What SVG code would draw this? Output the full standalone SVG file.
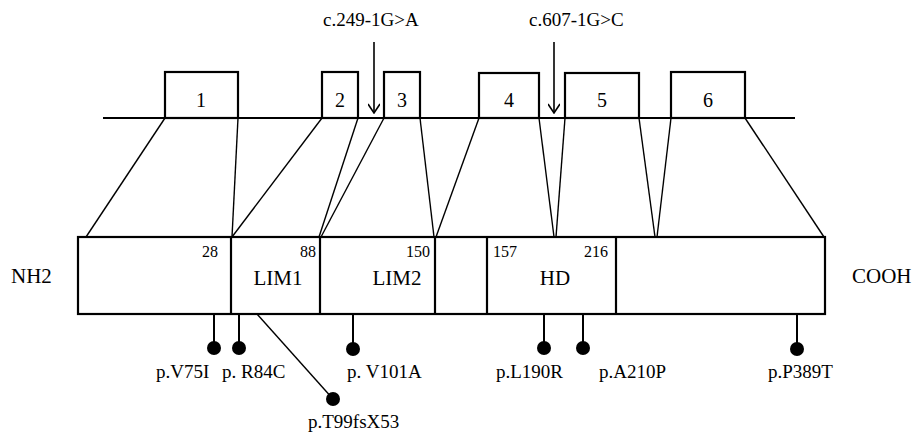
<svg xmlns="http://www.w3.org/2000/svg" width="914" height="435" viewBox="0 0 914 435">
<style>
text{font-family:"Liberation Serif","Times New Roman",serif;fill:#000}
.ex{fill:#fff;stroke:#000;stroke-width:2.2}
.dom{fill:#fff;stroke:#000;stroke-width:2.2}
.gl{stroke:#000;stroke-width:2.2;fill:none}
.cn{stroke:#000;stroke-width:1.4;fill:none}
.st{stroke:#000;stroke-width:2;fill:none}
.ar{stroke:#000;stroke-width:1.6;fill:none}
.en{font-size:20px;text-anchor:middle}
.big{font-size:21px}
.num{font-size:16px}
.mut{font-size:19px}
</style>
<defs>
<marker id="ah" viewBox="0 0 14 12" refX="13" refY="6" markerWidth="14" markerHeight="12" markerUnits="userSpaceOnUse" orient="auto">
<path d="M4,0 L13,6 L4,12" fill="none" stroke="#000" stroke-width="1.6"/>
</marker>
</defs>
<line id="gene-line" class="gl" x1="103" y1="118" x2="795" y2="118"/>
<g id="exon1"><rect class="ex" x="165" y="72" width="73" height="46"/><text class="en" x="201" y="107">1</text></g>
<g id="exon2"><rect class="ex" x="322" y="72" width="36" height="46"/><text class="en" x="340" y="107">2</text></g>
<g id="exon3"><rect class="ex" x="384" y="72" width="36" height="46"/><text class="en" x="402" y="107">3</text></g>
<g id="exon4"><rect class="ex" x="479" y="73" width="60" height="45"/><text class="en" x="509" y="107">4</text></g>
<g id="exon5"><rect class="ex" x="565" y="73" width="74" height="45"/><text class="en" x="602" y="107">5</text></g>
<g id="exon6"><rect class="ex" x="671" y="72" width="74" height="46"/><text class="en" x="708" y="107">6</text></g>
<g id="splice1"><text class="mut" x="323" y="26">c.249-1G&gt;A</text><line class="ar" x1="374" y1="42" x2="374" y2="113" marker-end="url(#ah)"/></g>
<g id="splice2"><text class="mut" x="529" y="26">c.607-1G&gt;C</text><line class="ar" x1="554" y1="42" x2="554" y2="113" marker-end="url(#ah)"/></g>
<g id="protein">
<rect class="dom" x="78" y="237" width="747" height="77"/>
<line class="dom" x1="231" y1="237" x2="231" y2="314"/>
<line class="dom" x1="320" y1="237" x2="320" y2="314"/>
<line class="dom" x1="435" y1="237" x2="435" y2="314"/>
<line class="dom" x1="487" y1="237" x2="487" y2="314"/>
<line class="dom" x1="616" y1="237" x2="616" y2="314"/>
<text class="num" x="218" y="257" text-anchor="end">28</text>
<text class="num" x="316" y="257" text-anchor="end">88</text>
<text class="num" x="430" y="257" text-anchor="end">150</text>
<text class="num" x="493" y="257">157</text>
<text class="num" x="608" y="257" text-anchor="end">216</text>
<text class="big" x="278" y="285" text-anchor="middle">LIM1</text>
<text class="big" x="397" y="285" text-anchor="middle">LIM2</text>
<text class="big" x="555" y="285" text-anchor="middle">HD</text>
</g>
<text id="nh2" class="big" x="11" y="283">NH2</text>
<text id="cooh" class="big" x="852" y="283">COOH</text>
<g id="connectors">
<line class="cn" x1="165" y1="118" x2="86" y2="237"/>
<line class="cn" x1="238" y1="118" x2="232" y2="237"/>
<line class="cn" x1="322" y1="118" x2="232" y2="237"/>
<line class="cn" x1="358" y1="118" x2="319" y2="237"/>
<line class="cn" x1="384" y1="118" x2="321" y2="237"/>
<line class="cn" x1="420" y1="118" x2="434" y2="237"/>
<line class="cn" x1="479" y1="118" x2="436" y2="237"/>
<line class="cn" x1="539" y1="118" x2="554" y2="237"/>
<line class="cn" x1="565" y1="118" x2="556" y2="237"/>
<line class="cn" x1="639" y1="118" x2="655" y2="237"/>
<line class="cn" x1="671" y1="118" x2="657" y2="237"/>
<line class="cn" x1="745" y1="118" x2="824" y2="237"/>
</g>
<g id="mut-V75I"><line class="st" x1="214" y1="314" x2="214" y2="348"/><circle cx="214" cy="348" r="7"/><text class="mut" x="156" y="378">p.V75I</text></g>
<g id="mut-R84C"><line class="st" x1="239" y1="314" x2="239" y2="348"/><circle cx="239" cy="348" r="7"/><text class="mut" x="222" y="378">p. R84C</text></g>
<g id="mut-T99fsX53"><line class="cn" x1="257" y1="314" x2="333" y2="399"/><circle cx="333" cy="399" r="7"/><text class="mut" x="308" y="428">p.T99fsX53</text></g>
<g id="mut-V101A"><line class="st" x1="353" y1="314" x2="353" y2="349"/><circle cx="353" cy="349" r="7"/><text class="mut" x="347" y="378">p. V101A</text></g>
<g id="mut-L190R"><line class="st" x1="544" y1="314" x2="544" y2="348"/><circle cx="544" cy="348" r="7"/><text class="mut" x="496" y="378">p.L190R</text></g>
<g id="mut-A210P"><line class="st" x1="583" y1="314" x2="583" y2="348"/><circle cx="583" cy="348" r="7"/><text class="mut" x="599" y="378">p.A210P</text></g>
<g id="mut-P389T"><line class="st" x1="797" y1="314" x2="797" y2="349"/><circle cx="797" cy="349" r="7"/><text class="mut" x="768" y="378">p.P389T</text></g>
</svg>
